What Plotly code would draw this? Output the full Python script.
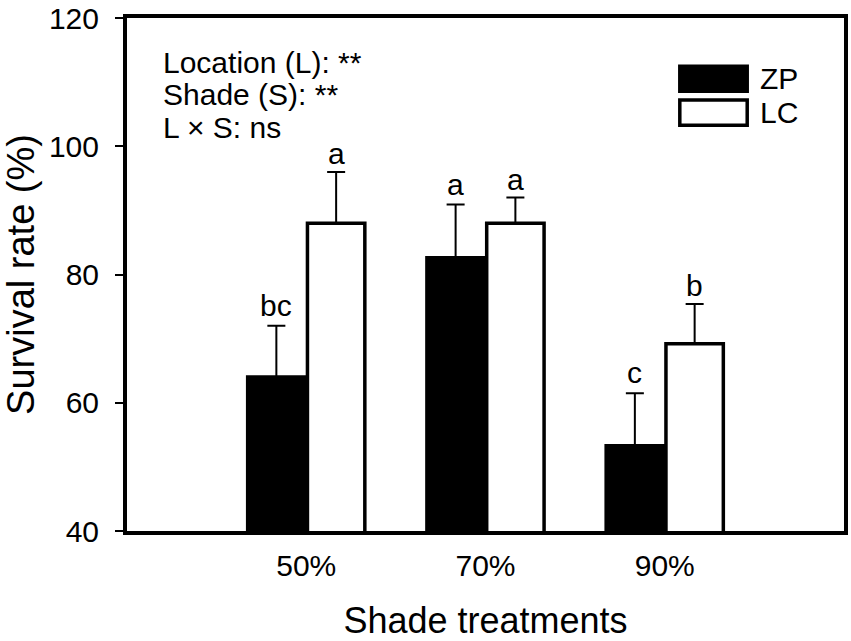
import plotly.graph_objects as go

treatments = ['50%', '70%', '90%']
zp_mean = [64.0, 82.6, 53.3]
zp_se = [8.0, 8.3, 8.2]
lc_mean = [88.0, 88.0, 69.2]
lc_se = [8.0, 4.0, 6.2]
zp_letters = ['bc', 'a', 'c']
lc_letters = ['a', 'a', 'b']
stats_text = ['Location (L): **', 'Shade (S): **', 'L × S: ns']

FONT = 'Liberation Sans, Arial, sans-serif'

fig = go.Figure()

fig.add_trace(go.Bar(x=treatments, y=zp_mean, name='ZP',
                     marker=dict(color='black', line=dict(color='black', width=3.5)),
                     error_y=dict(type='data', array=zp_se, arrayminus=[0, 0, 0],
                                  symmetric=False, color='black', thickness=2, width=9)))
fig.add_trace(go.Bar(x=treatments, y=lc_mean, name='LC',
                     marker=dict(color='white', line=dict(color='black', width=3.5)),
                     error_y=dict(type='data', array=lc_se, arrayminus=[0, 0, 0],
                                  symmetric=False, color='black', thickness=2, width=9)))

# letters above error bars
for i, t in enumerate(treatments):
    fig.add_annotation(x=t, y=zp_mean[i] + zp_se[i], text=zp_letters[i], showarrow=False,
                       xshift=-30, yanchor='bottom', yshift=2,
                       font=dict(size=30, color='black', family=FONT))
    fig.add_annotation(x=t, y=lc_mean[i] + lc_se[i], text=lc_letters[i], showarrow=False,
                       xshift=30, yanchor='bottom', yshift=0,
                       font=dict(size=30, color='black', family=FONT))

# statistics text, one line per annotation
for k, line in enumerate(stats_text):
    fig.add_annotation(xref='paper', yref='paper', x=0.048, y=0.914 - k * 0.064,
                       xanchor='left', yanchor='middle', text=line, showarrow=False,
                       font=dict(size=30, color='black', family=FONT))

# legend drawn by hand
for j, (name, fill) in enumerate([('ZP', 'black'), ('LC', 'white')]):
    y_top = 0.906 - j * 0.066
    fig.add_shape(type='rect', xref='paper', yref='paper', x0=0.771, x1=0.865,
                  y0=y_top - 0.049, y1=y_top, fillcolor=fill, line=dict(color='black', width=3.5))
    fig.add_annotation(xref='paper', yref='paper', x=0.88, y=y_top - 0.0245, text=name,
                       xanchor='left', yanchor='middle', showarrow=False,
                       font=dict(size=30, color='black', family=FONT))

fig.update_layout(
    width=851, height=641,
    margin=dict(l=127, r=7, t=18, b=110),
    paper_bgcolor='white', plot_bgcolor='white',
    barmode='group', bargap=0.333, bargroupgap=0.04,
    showlegend=False,
    font=dict(family=FONT, color='black'),
)
fig.update_xaxes(range=[-1, 3], automargin=False, showline=True, mirror=True,
                 linecolor='black', linewidth=4, ticks='', tickfont=dict(size=30),
                 ticklabelstandoff=5,
                 title=dict(text='Shade treatments', font=dict(size=36), standoff=31))
fig.update_yaxes(range=[40, 120], tickvals=[40, 60, 80, 100, 120], automargin=False,
                 showline=True, mirror=True, linecolor='black', linewidth=4,
                 ticks='outside', ticklen=8, tickwidth=2, tickcolor='black',
                 ticklabelstandoff=10, showgrid=False, zeroline=False,
                 tickfont=dict(size=30),
                 title=dict(text='Survival rate (%)', font=dict(size=38), standoff=12))

fig.write_html('out.html', config={'displayModeBar': False},
               post_script="document.body.style.margin='0';")
